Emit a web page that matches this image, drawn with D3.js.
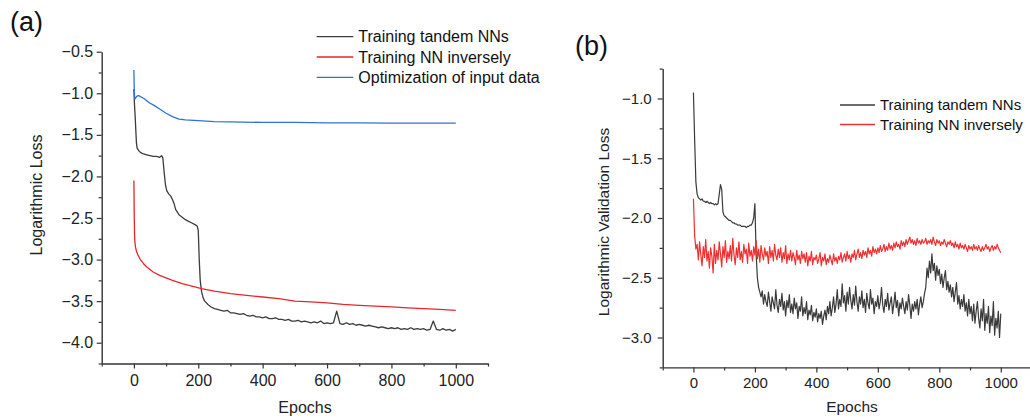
<!DOCTYPE html>
<html>
<head>
<meta charset="utf-8">
<script src="https://cdn.jsdelivr.net/npm/d3@7"></script>
<style>
  body { margin: 0; background: #fff; }
  svg { font-family: "Liberation Sans", Arial, sans-serif; }
</style>
</head>
<body>
<svg id="chart" width="1030" height="419"></svg>
<script>
// Panel (a): training loss curves

const tandemTrainEpochs = [0, 1, 2, 4, 6, 8, 10, 15, 20, 30,
  40, 50, 60, 70, 80, 86, 90, 94, 98, 102,
  108, 115, 120, 125, 130, 140, 150, 160, 170, 180,
  190, 197, 200, 203, 206, 210, 215, 220, 230, 240,
  250].concat(d3.range(260, 1001, 10));
const tandemTrainLoss = [
  -0.95, -1.05, -1.15, -1.28, -1.45, -1.60, -1.66, -1.69, -1.71, -1.73,
  -1.74, -1.75, -1.76, -1.76, -1.77, -1.75, -1.78, -1.95, -2.10, -2.17,
  -2.21, -2.24, -2.28, -2.33, -2.40, -2.46, -2.49, -2.52, -2.54, -2.56,
  -2.58, -2.60, -2.65, -3.00, -3.25, -3.38, -3.46, -3.50, -3.54, -3.57,
  -3.59,
  // 260 .. 1000, every 10 epochs
  -3.60, -3.61, -3.62, -3.61, -3.64, -3.64, -3.65, -3.66, -3.65, -3.67,
  -3.68, -3.67, -3.69, -3.69, -3.70, -3.69, -3.71, -3.71, -3.70, -3.72,
  -3.72, -3.73, -3.72, -3.74, -3.74, -3.73, -3.75, -3.74, -3.75, -3.76,
  -3.75, -3.76, -3.74, -3.77, -3.76, -3.77, -3.76, -3.62, -3.77, -3.78,
  -3.76, -3.78, -3.77, -3.79, -3.78, -3.79, -3.80, -3.79, -3.80, -3.81,
  -3.82, -3.81, -3.82, -3.83, -3.82, -3.83, -3.82, -3.84, -3.83, -3.84,
  -3.82, -3.84, -3.83, -3.84, -3.83, -3.85, -3.84, -3.74, -3.84, -3.85,
  -3.83, -3.85, -3.84, -3.86, -3.84
];

const inverseTrainEpochs = [0, 1, 2, 3, 5, 8, 12, 16, 20, 30, 40, 50, 60, 80, 100,
  120, 150, 180, 210, 250, 300, 350, 400, 450, 500, 550, 600, 650, 700, 750,
  800, 850, 900, 950, 1000];
const inverseTrainLoss = [-2.05, -2.45, -2.68, -2.78, -2.85, -2.90, -2.94, -2.97, -3.00, -3.05,
  -3.09, -3.12, -3.15, -3.19, -3.22, -3.25, -3.29, -3.32, -3.35, -3.38,
  -3.41, -3.43, -3.45, -3.47, -3.50, -3.51, -3.52, -3.54, -3.55, -3.56,
  -3.57, -3.58, -3.59, -3.60, -3.61];

const optimEpochs = [0, 1, 2, 3, 5, 8, 12, 16, 20, 30, 40, 50, 60, 80, 100,
  120, 140, 160, 200, 250, 300, 400, 500, 600, 700, 800, 900, 1000];
const optimLoss = [-0.72, -0.92, -1.04, -1.07, -1.06, -1.04, -1.03, -1.03, -1.04, -1.06,
  -1.09, -1.12, -1.14, -1.19, -1.24, -1.28, -1.31, -1.32, -1.33, -1.34,
  -1.345, -1.35, -1.35, -1.355, -1.355, -1.36, -1.36, -1.36];

// Panel (b): validation loss, every 4 epochs from 0 to 1000
const validEpochs = d3.range(0, 1001, 4);
const tandemValidLoss = [
  -0.95, -1.35, -1.70, -1.80, -1.83, -1.84, -1.85, -1.84, -1.86, -1.86,
  -1.87, -1.86, -1.87, -1.88, -1.87, -1.88, -1.88, -1.89, -1.88, -1.89,
  -1.88, -1.80, -1.72, -1.76, -1.95, -1.98, -1.99, -2.00, -2.01, -2.02,
  -2.02, -2.03, -2.04, -2.04, -2.05, -2.05, -2.06, -2.06, -2.06, -2.07,
  -2.07, -2.07, -2.07, -2.08, -2.07, -2.07, -2.06, -2.06, -2.04, -2.00,
  -1.88, -2.30, -2.50, -2.58, -2.62, -2.66, -2.61, -2.72, -2.64, -2.70,
  -2.74, -2.62, -2.70, -2.78, -2.66, -2.71, -2.76, -2.60, -2.73, -2.79,
  -2.68, -2.74, -2.63, -2.77, -2.70, -2.82, -2.69, -2.75, -2.64, -2.79,
  -2.72, -2.80, -2.67, -2.76, -2.71, -2.84, -2.74, -2.78, -2.66, -2.82,
  -2.75, -2.80, -2.70, -2.85, -2.77, -2.81, -2.73, -2.86, -2.79, -2.83,
  -2.76, -2.87, -2.80, -2.84, -2.78, -2.89, -2.82, -2.77, -2.85, -2.74,
  -2.80, -2.70, -2.82, -2.75, -2.66, -2.79, -2.72, -2.60, -2.76, -2.68,
  -2.74, -2.55, -2.71, -2.65, -2.78, -2.62, -2.72, -2.58, -2.69, -2.76,
  -2.64, -2.73, -2.57, -2.70, -2.78, -2.66, -2.72, -2.61, -2.75, -2.68,
  -2.79, -2.63, -2.71, -2.76, -2.60, -2.72, -2.67, -2.80, -2.70, -2.74,
  -2.65, -2.76, -2.70, -2.58, -2.73, -2.79, -2.68, -2.74, -2.63, -2.77,
  -2.71, -2.66, -2.80, -2.72, -2.62, -2.75, -2.69, -2.82, -2.71, -2.76,
  -2.67, -2.74, -2.80, -2.70, -2.77, -2.64, -2.73, -2.84, -2.72, -2.78,
  -2.70, -2.76, -2.68, -2.81, -2.72, -2.66, -2.75, -2.70, -2.63, -2.58,
  -2.42, -2.50, -2.36, -2.46, -2.30, -2.44, -2.38, -2.52, -2.40, -2.48,
  -2.43, -2.55, -2.47, -2.58, -2.50, -2.44, -2.60, -2.53, -2.62, -2.56,
  -2.66, -2.58, -2.70, -2.62, -2.54, -2.72, -2.65, -2.76, -2.68, -2.74,
  -2.64, -2.78, -2.71, -2.82, -2.68, -2.80, -2.74, -2.86, -2.72, -2.88,
  -2.78, -2.70, -2.84, -2.92, -2.76, -2.86, -2.68, -2.94, -2.80, -2.88,
  -2.74, -2.96, -2.82, -2.90, -2.70, -2.98, -2.84, -2.92, -2.78, -3.00,
  -2.80
];
const inverseValidLoss = [
  -1.84, -2.15, -2.26, -2.22, -2.35, -2.20, -2.31, -2.40, -2.24, -2.33,
  -2.18, -2.36, -2.28, -2.42, -2.25, -2.32, -2.46, -2.22, -2.38, -2.27,
  -2.35, -2.20, -2.30, -2.41, -2.24, -2.33, -2.19, -2.37, -2.28, -2.34,
  -2.23, -2.36, -2.17, -2.31, -2.39, -2.25, -2.33, -2.20, -2.35, -2.28,
  -2.37, -2.22, -2.30, -2.26, -2.38, -2.21, -2.32, -2.27, -2.36, -2.24,
  -2.31, -2.19, -2.34, -2.26, -2.37, -2.23, -2.30, -2.35, -2.25, -2.32,
  -2.28, -2.38, -2.24, -2.33, -2.27, -2.36, -2.22, -2.31, -2.35, -2.26,
  -2.33, -2.25, -2.37, -2.29, -2.34, -2.23, -2.38, -2.30, -2.35, -2.27,
  -2.36, -2.29, -2.33, -2.39, -2.27, -2.35, -2.31, -2.38, -2.28, -2.34,
  -2.30, -2.37, -2.29, -2.40, -2.32, -2.36, -2.28, -2.39, -2.33, -2.35,
  -2.31, -2.38, -2.34, -2.29, -2.40, -2.33, -2.36, -2.30, -2.39, -2.34,
  -2.37, -2.31, -2.35, -2.39, -2.30, -2.36, -2.33, -2.38, -2.32, -2.35,
  -2.29, -2.37, -2.33, -2.30, -2.36, -2.28, -2.34, -2.31, -2.37, -2.30,
  -2.33, -2.27, -2.35, -2.30, -2.26, -2.33, -2.29, -2.34, -2.27, -2.31,
  -2.28, -2.33, -2.25, -2.30, -2.27, -2.32, -2.24, -2.29, -2.26, -2.30,
  -2.25, -2.29, -2.23, -2.28, -2.26, -2.22, -2.28, -2.24, -2.27, -2.21,
  -2.26, -2.23, -2.27, -2.21, -2.25, -2.20, -2.24, -2.22, -2.26, -2.19,
  -2.23, -2.20, -2.24, -2.18, -2.22, -2.19, -2.16, -2.21, -2.18, -2.22,
  -2.19, -2.23, -2.17, -2.21, -2.19, -2.22, -2.18, -2.21, -2.20, -2.17,
  -2.22, -2.19, -2.21, -2.18, -2.22, -2.16, -2.20, -2.23, -2.18, -2.21,
  -2.19, -2.23, -2.20, -2.22, -2.18, -2.21, -2.24, -2.20, -2.22, -2.19,
  -2.23, -2.21, -2.25, -2.20, -2.24, -2.22, -2.26, -2.21, -2.25, -2.23,
  -2.26, -2.22, -2.25, -2.28, -2.23, -2.26, -2.24, -2.27, -2.22, -2.26,
  -2.24, -2.27, -2.23, -2.26, -2.28, -2.24, -2.27, -2.25, -2.22, -2.26,
  -2.24, -2.28, -2.25, -2.23, -2.27, -2.24, -2.26, -2.22, -2.25, -2.27,
  -2.29
];

const xMajorTicks = [0, 200, 400, 600, 800, 1000];
const xMinorTicks = [-100, 100, 300, 500, 700, 900, 1100];
const aMajorTicks = [-0.5, -1.0, -1.5, -2.0, -2.5, -3.0, -3.5, -4.0];
const aMinorTicks = [-0.75, -1.25, -1.75, -2.25, -2.75, -3.25, -3.75, -4.25];
const bMajorTicks = [-1.0, -1.5, -2.0, -2.5, -3.0];
const bMinorTicks = [-0.75, -1.25, -1.75, -2.25, -2.75, -3.25];

const svg = d3.select("#chart");
const axisColor = "#333";

function drawPanel(p) {
  const g = svg.append("g");
  const x = d3.scaleLinear().domain([-100, 1100]).range(p.xRange);
  const y = d3.scaleLinear().domain(p.yDomain).range(p.yRange);

  // minor ticks
  g.append("g")
    .attr("transform", `translate(0,${p.yRange[0]})`)
    .call(d3.axisBottom(x).tickValues(xMinorTicks).tickSize(3).tickFormat(""))
    .call(a => a.select(".domain").remove());
  g.append("g")
    .attr("transform", `translate(${p.xRange[0]},0)`)
    .call(d3.axisLeft(y).tickValues(p.yMinor).tickSize(3).tickFormat(""))
    .call(a => a.select(".domain").remove());

  // major axes
  const xa = g.append("g")
    .attr("transform", `translate(0,${p.yRange[0]})`)
    .call(d3.axisBottom(x).tickValues(xMajorTicks).tickSize(5).tickSizeOuter(0)
      .tickPadding(p.xPad).tickFormat(d3.format("d")));
  const ya = g.append("g")
    .attr("transform", `translate(${p.xRange[0]},0)`)
    .call(d3.axisLeft(y).tickValues(p.yMajor).tickSize(5).tickSizeOuter(0)
      .tickPadding(p.yPad).tickFormat(d3.format(".1f")));

  g.selectAll(".tick line").attr("stroke", axisColor).attr("stroke-width", 1.2);
  [xa, ya].forEach(a => {
    a.select(".domain").attr("stroke", axisColor).attr("stroke-width", 1.4);
    a.attr("font-family", null).attr("font-size", null);
    a.selectAll("text").style("font-size", p.tickFont + "px").attr("fill", "#222");
  });

  const line = d3.line()
    .x(d => x(d[0]))
    .y(d => y(d[1]));

  p.series.forEach(s => {
    g.append("path")
      .datum(d3.zip(s.epochs, s.values))
      .attr("fill", "none")
      .attr("stroke", s.color)
      .attr("stroke-width", s.width)
      .attr("stroke-linejoin", "round")
      .attr("d", line);
  });

  // axis labels
  g.append("text")
    .attr("x", p.xLabel[0])
    .attr("y", p.xLabel[1])
    .attr("text-anchor", "middle")
    .style("font-size", p.labelFont + "px")
    .attr("fill", "#222")
    .text("Epochs");
  g.append("text")
    .attr("transform", `translate(${p.yLabel[0]},${p.yLabel[1]}) rotate(-90)`)
    .attr("text-anchor", "middle")
    .attr("dy", "0.35em")
    .style("font-size", p.labelFont + "px")
    .attr("fill", "#222")
    .text(p.yTitle);

  // panel tag
  g.append("text")
    .attr("x", p.tag[0])
    .attr("y", p.tag[1])
    .style("font-size", "27px")
    .attr("fill", "#111")
    .text(p.tagText);

  // legend
  const lg = g.append("g").attr("transform", `translate(${p.legend[0]},${p.legend[1]})`);
  p.series.forEach((s, i) => {
    const row = lg.append("g").attr("transform", `translate(0,${i * p.legendStep})`);
    row.append("line")
      .attr("x1", 0).attr("x2", p.legendLine)
      .attr("stroke", s.color)
      .attr("stroke-width", 1.3);
    row.append("text")
      .attr("x", p.legendLine + 5)
      .attr("dy", "0.35em")
      .style("font-size", p.legendFont + "px")
      .attr("fill", "#111")
      .text(s.name);
  });
}

drawPanel({
  xRange: [101.7, 488],
  yDomain: [-4.25, -0.5],
  yRange: [363.5, 51.7],
  yMajor: aMajorTicks,
  yMinor: aMinorTicks,
  xPad: 6,
  yPad: 3.5,
  tickFont: 16,
  labelFont: 16,
  legendFont: 16,
  xLabel: [305, 413],
  yLabel: [36, 195],
  yTitle: "Logarithmic Loss",
  tag: [10, 31],
  tagText: "(a)",
  legend: [316.7, 36.7],
  legendStep: 20.3,
  legendLine: 36.6,
  series: [
    { name: "Training tandem NNs", epochs: tandemTrainEpochs, values: tandemTrainLoss, color: "#3c3c3c", width: 1.3 },
    { name: "Training NN inversely", epochs: inverseTrainEpochs, values: inverseTrainLoss, color: "#e8262c", width: 1.3 },
    { name: "Optimization of input data", epochs: optimEpochs, values: optimLoss, color: "#2f72d6", width: 1.3 }
  ]
});

drawPanel({
  xRange: [662.7, 1031.5],
  yDomain: [-3.25, -0.75],
  yRange: [367.4, 68.6],
  yMajor: bMajorTicks,
  yMinor: bMinorTicks,
  xPad: 5,
  yPad: 6,
  tickFont: 15,
  labelFont: 15.5,
  legendFont: 15,
  xLabel: [852, 412],
  yLabel: [604, 222],
  yTitle: "Logarithmic Validation Loss",
  tag: [575, 55],
  tagText: "(b)",
  legend: [840, 105],
  legendStep: 19.5,
  legendLine: 35,
  series: [
    { name: "Training tandem NNs", epochs: validEpochs, values: tandemValidLoss, color: "#3a3a3a", width: 1.2 },
    { name: "Training NN inversely", epochs: validEpochs, values: inverseValidLoss, color: "#f03030", width: 1.2 }
  ]
});
</script>
</body>
</html>
